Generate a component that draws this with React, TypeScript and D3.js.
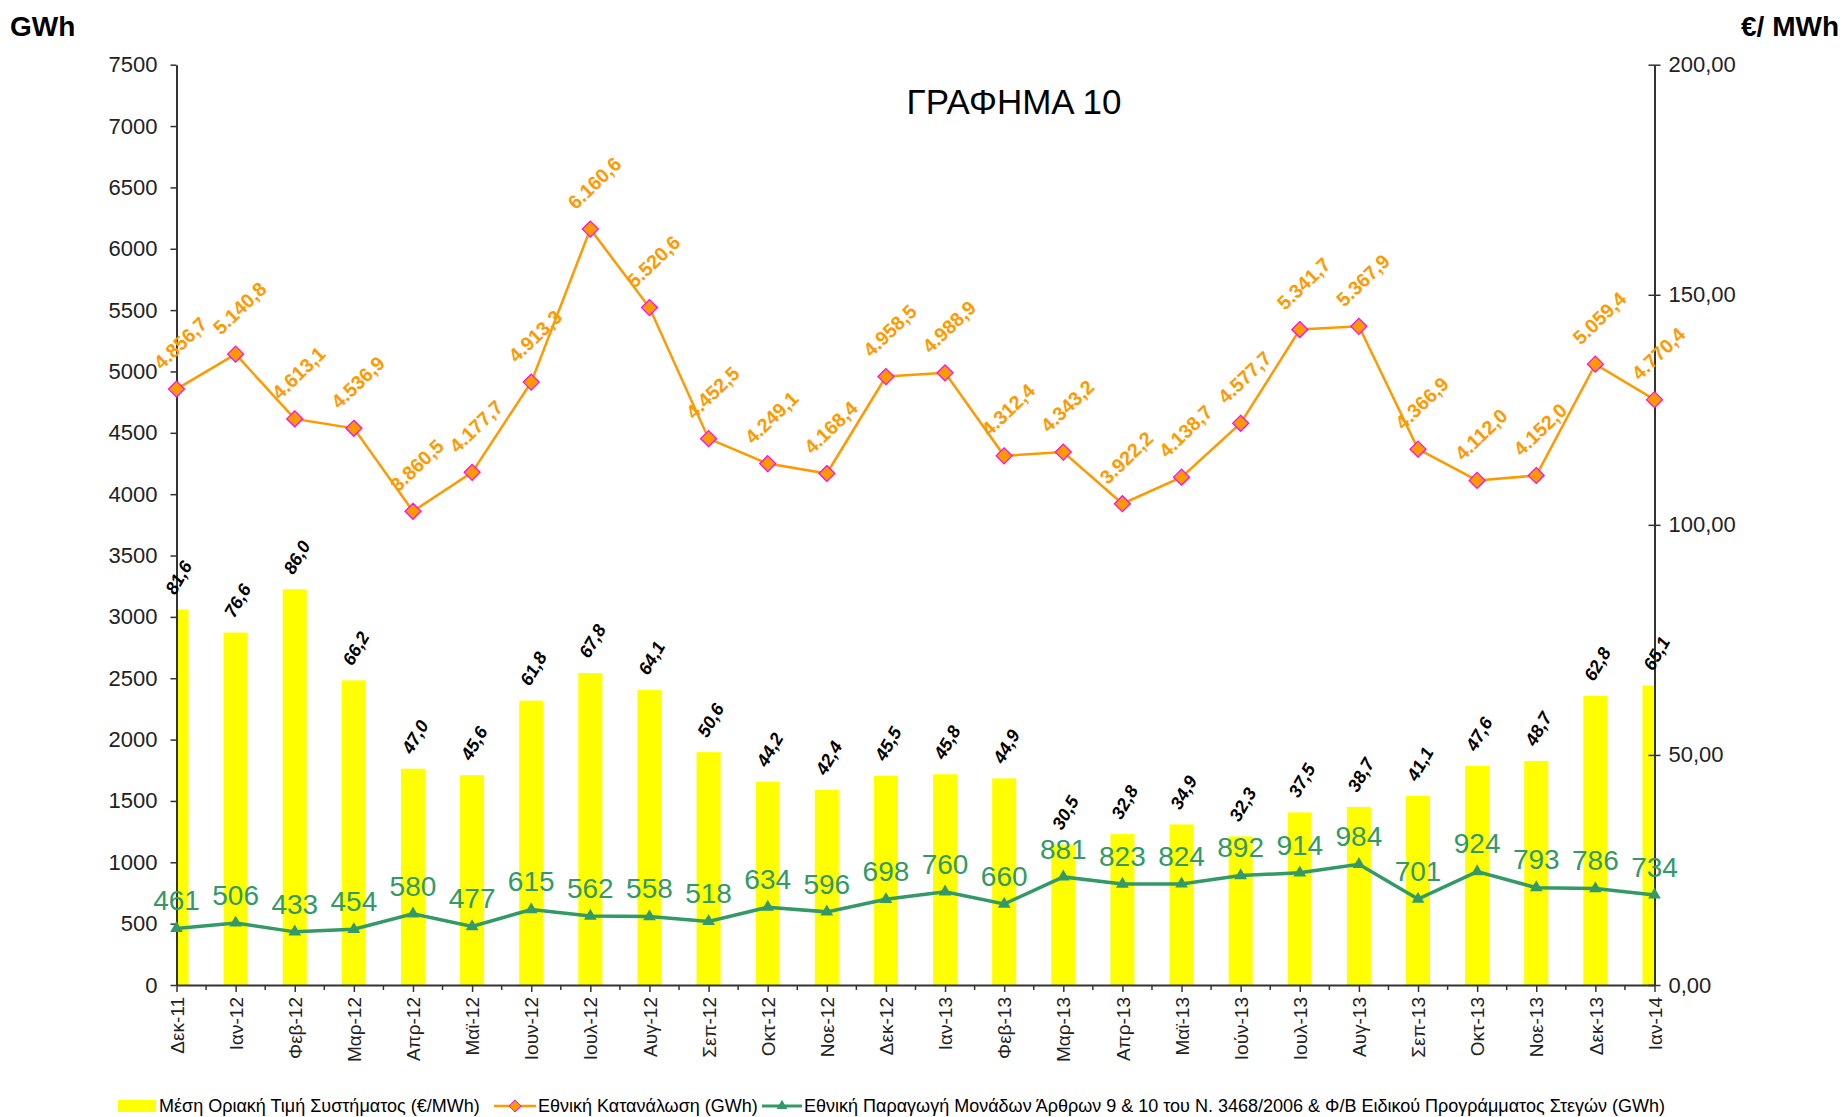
import React, { useEffect, useRef } from 'react';
import * as d3 from 'd3';

// months on the x axis
const months = ['Δεκ-11', 'Ιαν-12', 'Φεβ-12', 'Μαρ-12', 'Απρ-12', 'Μαϊ-12', 'Ιουν-12', 'Ιουλ-12', 'Αυγ-12',
    'Σεπ-12', 'Οκτ-12', 'Νοε-12', 'Δεκ-12', 'Ιαν-13', 'Φεβ-13', 'Μαρ-13', 'Απρ-13', 'Μαϊ-13', 'Ιούν-13',
    'Ιουλ-13', 'Αυγ-13', 'Σεπ-13', 'Οκτ-13', 'Νοε-13', 'Δεκ-13', 'Ιαν-14'];

// Μέση Οριακή Τιμή Συστήματος (€/MWh) - bars, right axis
const price = [81.6, 76.6, 86.0, 66.2, 47.0, 45.6, 61.8, 67.8, 64.1, 50.6, 44.2, 42.4, 45.5, 45.8, 44.9,
    30.5, 32.8, 34.9, 32.3, 37.5, 38.7, 41.1, 47.6, 48.7, 62.8, 65.1];

// Εθνική Κατανάλωση (GWh) - orange line, left axis
const consumption = [4856.7, 5140.8, 4613.1, 4536.9, 3860.5, 4177.7, 4913.3, 6160.6, 5520.6, 4452.5, 4249.1,
    4168.4, 4958.5, 4988.9, 4312.4, 4343.2, 3922.2, 4138.7, 4577.7, 5341.7, 5367.9, 4366.9, 4112.0, 4152.0,
    5059.4, 4770.4];

// Εθνική Παραγωγή Μονάδων ... (GWh) - green line, left axis
const production = [461, 506, 433, 454, 580, 477, 615, 562, 558, 518, 634, 596, 698, 760, 660, 881, 823, 824,
    892, 914, 984, 701, 924, 793, 786, 734];

const gwhTicks = [0, 500, 1000, 1500, 2000, 2500, 3000, 3500, 4000, 4500, 5000, 5500, 6000, 6500, 7000, 7500];
const eurTicks = [0, 50, 100, 150, 200];

const legendLabels = [
    'Μέση Οριακή Τιμή Συστήματος (€/MWh)',
    'Εθνική Κατανάλωση (GWh)',
    'Εθνική Παραγωγή Μονάδων Άρθρων 9 & 10 του Ν. 3468/2006 & Φ/Β Ειδικού Προγράμματος Στεγών (GWh)'
];

const FONT = '"Liberation Sans", Arial, sans-serif';
const ORANGE = '#FF9900';
const GREEN = '#339966';
const AXIS = '#333333';

const gr = d3.formatLocale({ decimal: ',', thousands: '.', grouping: [3], currency: ['', '€'] });

function Chart() {
    const ref = useRef<SVGSVGElement>(null);

    useEffect(() => {
        const W = 1845, H = 1117;
        const margin = { top: 64.7, right: 190.5, bottom: 132, left: 176.5 };
        const width = W - margin.left - margin.right,
            height = H - margin.top - margin.bottom;

        const root = d3.select(ref.current);
        root.selectAll('*').remove();

        const x = d3.scalePoint<string>().domain(months).range([0, width]);
        const yL = d3.scaleLinear().domain([0, 7500]).range([height, 0]);
        const yR = d3.scaleLinear().domain([0, 200]).range([height, 0]);

        const svg = root.append('g')
            .attr('transform', 'translate(' + margin.left + ',' + margin.top + ')');

        svg.append('clipPath').attr('id', 'plot-clip')
            .append('rect').attr('x', 0).attr('y', 0).attr('width', width).attr('height', height);

        // bars (price)
        svg.append('g').attr('clip-path', 'url(#plot-clip)')
            .selectAll('rect')
            .data(price)
            .enter()
            .append('rect')
            .attr('x', (d, i) => x(months[i])! - 12)
            .attr('y', d => yR(d))
            .attr('width', 24)
            .attr('height', d => height - yR(d))
            .style('fill', '#FFFF00');

        // left axis
        const axL = svg.append('g')
            .call(d3.axisLeft(yL).tickValues(gwhTicks).tickSize(6).tickSizeOuter(0).tickPadding(13).tickFormat(d3.format('d')));
        // right axis
        const axR = svg.append('g')
            .attr('transform', 'translate(' + width + ',0)')
            .call(d3.axisRight(yR).tickValues(eurTicks).tickSize(6).tickSizeOuter(0).tickPadding(8).tickFormat(gr.format('.2f')));
        axR.selectAll('.tick line').attr('x1', -6);
        // bottom axis
        const axB = svg.append('g')
            .attr('transform', 'translate(0,' + height + ')')
            .call(d3.axisBottom(x).tickSize(7).tickSizeOuter(0));
        axB.selectAll('.tick text')
            .attr('transform', 'rotate(-90)')
            .attr('text-anchor', 'end')
            .attr('x', -12)
            .attr('y', 0)
            .attr('dy', '0.35em')
            .style('font-size', '19px');
        // minor ticks between months
        axB.selectAll('.minor')
            .data(months.slice(1))
            .enter()
            .append('line')
            .attr('class', 'minor')
            .attr('x1', (d, i) => (x(months[i])! + x(d)!) / 2)
            .attr('x2', (d, i) => (x(months[i])! + x(d)!) / 2)
            .attr('y1', 0)
            .attr('y2', 5)
            .attr('stroke', AXIS)
            .attr('stroke-width', 1.5);

        [axL, axR, axB].forEach(ax => {
            ax.attr('font-family', FONT).attr('font-size', 22);
            ax.selectAll('.domain').attr('stroke', AXIS).attr('stroke-width', 2);
            ax.selectAll('.tick line').attr('stroke', AXIS).attr('stroke-width', 1.5);
            ax.selectAll('text').attr('fill', '#222');
        });

        // bar labels
        svg.selectAll('.bar-label')
            .data(price)
            .enter()
            .append('text')
            .attr('class', 'bar-label')
            .attr('transform', (d, i) => 'translate(' + (x(months[i])! + 2) + ',' + (yR(d) - 32) + ') rotate(-60)')
            .attr('text-anchor', 'middle')
            .attr('dy', '0.35em')
            .style('font-family', FONT)
            .style('font-size', '18px')
            .style('font-weight', 'bold')
            .style('font-style', 'italic')
            .text(d => gr.format('.1f')(d));

        // consumption line
        const lineL = d3.line<number>().x((d, i) => x(months[i])!).y(d => yL(d));
        svg.append('path')
            .datum(consumption)
            .attr('d', lineL)
            .attr('fill', 'none')
            .attr('stroke', ORANGE)
            .attr('stroke-width', 2.5);
        svg.selectAll('.diamond')
            .data(consumption)
            .enter()
            .append('path')
            .attr('class', 'diamond')
            .attr('d', 'M0,-8L8,0L0,8L-8,0Z')
            .attr('transform', (d, i) => 'translate(' + x(months[i]) + ',' + yL(d) + ')')
            .attr('fill', ORANGE)
            .attr('stroke', '#FF00FF')
            .attr('stroke-width', 1.2);
        svg.selectAll('.cons-label')
            .data(consumption)
            .enter()
            .append('text')
            .attr('class', 'cons-label')
            .attr('transform', (d, i) => 'translate(' + (x(months[i])! + 4) + ',' + (yL(d) - 46) + ') rotate(-44)')
            .attr('text-anchor', 'middle')
            .attr('dy', '0.35em')
            .style('font-family', FONT)
            .style('font-size', '19.5px')
            .style('font-weight', 'bold')
            .style('fill', ORANGE)
            .text(d => gr.format(',.1f')(d));

        // production line
        svg.append('path')
            .datum(production)
            .attr('d', lineL)
            .attr('fill', 'none')
            .attr('stroke', GREEN)
            .attr('stroke-width', 3.5);
        svg.selectAll('.tri')
            .data(production)
            .enter()
            .append('path')
            .attr('class', 'tri')
            .attr('d', d3.symbol(d3.symbolTriangle, 70))
            .attr('transform', (d, i) => 'translate(' + x(months[i]) + ',' + yL(d) + ')')
            .attr('fill', GREEN);
        svg.selectAll('.prod-label')
            .data(production)
            .enter()
            .append('text')
            .attr('class', 'prod-label')
            .attr('x', (d, i) => x(months[i])!)
            .attr('y', d => yL(d) - 28)
            .attr('text-anchor', 'middle')
            .attr('dy', '0.35em')
            .style('font-family', '"Liberation Sans Narrow", ' + FONT)
            .style('font-size', '28px')
            .style('fill', GREEN)
            .text(d => d);

        // title + unit labels
        root.append('text')
            .attr('x', 1014).attr('y', 114)
            .attr('text-anchor', 'middle')
            .style('font-family', FONT).style('font-size', '35px')
            .text('ΓΡΑΦΗΜΑ 10');
        root.append('text')
            .attr('x', 10).attr('y', 36)
            .style('font-family', FONT).style('font-size', '28px').style('font-weight', 'bold')
            .text('GWh');
        root.append('text')
            .attr('x', 1839).attr('y', 36)
            .attr('text-anchor', 'end')
            .style('font-family', FONT).style('font-size', '28px').style('font-weight', 'bold')
            .text('€/ MWh');

        // legend
        const lg = root.append('g')
            .attr('transform', 'translate(0,1106)')
            .style('font-family', FONT)
            .style('font-size', '18px');
        lg.append('rect').attr('x', 118).attr('y', -6).attr('width', 38).attr('height', 12).attr('fill', '#FFFF00');
        lg.append('text').attr('x', 159).attr('dy', '0.35em').text(legendLabels[0]);
        lg.append('line').attr('x1', 494).attr('x2', 536).attr('stroke', ORANGE).attr('stroke-width', 2.5);
        lg.append('path').attr('d', 'M0,-6L6,0L0,6L-6,0Z').attr('transform', 'translate(515,0)')
            .attr('fill', ORANGE).attr('stroke', '#FF00FF');
        lg.append('text').attr('x', 538).attr('dy', '0.35em').text(legendLabels[1]);
        lg.append('line').attr('x1', 762).attr('x2', 802).attr('stroke', GREEN).attr('stroke-width', 3);
        lg.append('path').attr('d', d3.symbol(d3.symbolTriangle, 50)).attr('transform', 'translate(782,0)')
            .attr('fill', GREEN);
        lg.append('text').attr('x', 804).attr('dy', '0.35em').text(legendLabels[2]);
    }, []);

    return <svg ref={ref} width={1845} height={1117} style={{ position: 'absolute', left: 0, top: 0, background: '#fff' }} />;
}

export default function App() {
    return <Chart />;
}
